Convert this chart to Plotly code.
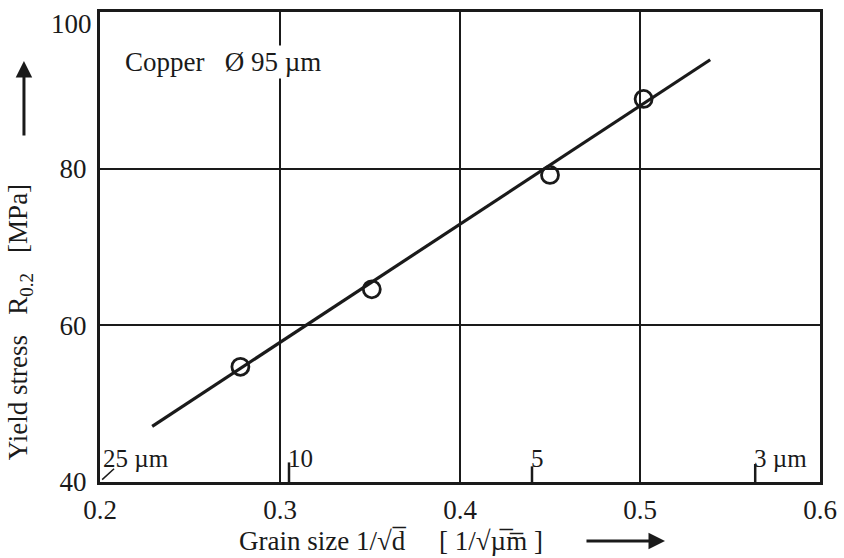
import plotly.graph_objects as go

# data
grain_x = [0.278, 0.351, 0.450, 0.502]
stress_y = [54.7, 64.6, 79.2, 88.9]
fit_x = [0.229, 0.539]
fit_y = [47.1, 93.9]
x_ticks = [0.2, 0.3, 0.4, 0.5, 0.6]
y_ticks = [40, 60, 80]
y_top_tick = 100
size_tick_x = [0.305, 0.440, 0.564]
size_tick_labels = ["10", "5", "3 µm"]
size_tick_len = [2.5, 2.0, 2.3]

FONT = "Liberation Serif"
INK = "#1a1a1a"

fig = go.Figure()
fig.add_trace(go.Scatter(x=fit_x, y=fit_y, mode="lines",
                         line=dict(color=INK, width=3.2), showlegend=False))
fig.add_trace(go.Scatter(x=grain_x, y=stress_y, mode="markers",
                         marker=dict(symbol="circle-open", size=17, color=INK,
                                     line=dict(color=INK, width=2.8)),
                         showlegend=False))

shapes = []
anns = []
for xv, lab, ln in zip(size_tick_x, size_tick_labels, size_tick_len):
    shapes.append(dict(type="line", xref="x", yref="y", x0=xv, x1=xv, y0=40, y1=40 + ln,
                       line=dict(color=INK, width=2.5)))
    anns.append(dict(x=xv, y=41.0, xref="x", yref="y", text=lab, showarrow=False,
                     xanchor="left", yanchor="bottom", xshift=-3,
                     font=dict(family=FONT, size=25, color=INK)))
# 25 µm diagonal tick
shapes.append(dict(type="line", xref="x", yref="y", x0=0.2012, x1=0.2078, y0=40.3, y1=41.7,
                   line=dict(color=INK, width=1.5)))
anns.append(dict(x=0.2005, y=41.0, xref="x", yref="y", text="25 µm", showarrow=False,
                 xanchor="left", yanchor="bottom",
                 font=dict(family=FONT, size=25, color=INK)))

# top y tick label (sits just below the frame in the reference)
anns.append(dict(x=0, y=y_top_tick, xref="paper", yref="y", text=str(y_top_tick),
                 showarrow=False, xanchor="right", yanchor="top", xshift=-6, yshift=5,
                 font=dict(family=FONT, size=27, color=INK)))

# Copper label
anns.append(dict(x=0.2125, y=93.6, xref="x", yref="y", text="Copper   Ø 95 µm", showarrow=False,
                 xanchor="left", yanchor="middle", bgcolor="white",
                 font=dict(family=FONT, size=27, color=INK)))

# axis titles
anns.append(dict(x=-0.111, y=0.34, xref="paper", yref="paper",
                 text="Yield stress   R<sub>0.2</sub>   [MPa]", textangle=-90, showarrow=False,
                 xanchor="center", yanchor="middle",
                 font=dict(family=FONT, size=27, color=INK)))
anns.append(dict(x=0.19, y=-0.125, xref="paper", yref="paper",
                 text="Grain size 1/√d\u0305     [ 1/√µ\u0305m\u0305 ]", showarrow=False,
                 xanchor="left", yanchor="middle",
                 font=dict(family=FONT, size=27, color=INK)))
# arrows
anns.append(dict(x=-0.1056, y=0.8957, xref="paper", yref="paper", text="", showarrow=True,
                 ax=0, ay=76, arrowhead=2, arrowsize=1.1, arrowwidth=3, arrowcolor=INK))
anns.append(dict(x=0.7847, y=-0.1255, xref="paper", yref="paper", text="", showarrow=True,
                 ax=-80, ay=0, arrowhead=2, arrowsize=1.1, arrowwidth=3, arrowcolor=INK))

fig.update_layout(
    width=844, height=558,
    margin=dict(l=100, r=24, t=12, b=76),
    paper_bgcolor="white", plot_bgcolor="white",
    font=dict(family=FONT, size=27, color=INK),
    shapes=shapes, annotations=anns,
    xaxis=dict(range=[0.2, 0.6], tickvals=x_ticks, ticktext=[f"{v:g}" for v in x_ticks],
               showgrid=True, gridcolor=INK, gridwidth=1.5, automargin=False,
               showline=True, linecolor=INK, linewidth=3, mirror=True,
               ticks="", zeroline=False, ticklabelstandoff=2, ticklabeloverflow="allow"),
    yaxis=dict(range=[40, 100], tickvals=y_ticks, automargin=False,
               showgrid=True, gridcolor=INK, gridwidth=1.5,
               showline=True, linecolor=INK, linewidth=3, mirror=True,
               ticks="", zeroline=False, ticklabelstandoff=5, ticklabeloverflow="allow"),
)
fig.write_html("out.html", config={"displayModeBar": False},
               post_script="document.body.style.margin='0';document.body.style.overflow='hidden';")
